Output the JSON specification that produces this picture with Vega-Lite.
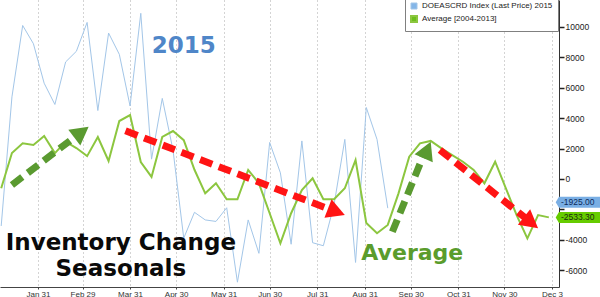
{
  "$schema": "https://vega.github.io/schema/vega-lite/v6.json",
  "width": 559,
  "height": 287,
  "autosize": "none",
  "padding": {"left": 0, "top": 0, "right": 41, "bottom": 10},
  "background": "white",
  "config": {
    "view": {"stroke": null},
    "font": "Liberation Sans",
    "axisX": {"grid": true, "gridDash": [1, 3], "gridColor": "#a8a8a8", "gridWidth": 1, "labelOverlap": false,
      "domainColor": "#444444", "tickColor": "#444444", "tickSize": 2, "labelFontSize": 8, "labelFont": "Liberation Sans", "labelColor": "#333333", "labelPadding": 1, "title": null},
    "axisY": {"grid": false, "labelOverlap": false,
      "tickSize": 5, "tickColor": "#222222", "tickWidth": 1.5, "domainColor": "#333333", "labelFontSize": 8.5, "labelFont": "Liberation Sans", "labelColor": "#222222", "labelPadding": 1, "title": null}
  },
  "datasets": {
    "grid": [
      {"value": -6000}, {"value": -4000}, {"value": -2000}, {"value": 0}, {"value": 2000},
      {"value": 4000}, {"value": 6000}, {"value": 8000}, {"value": 10000}
    ],
    "lines": [
      {"series": "DOEASCRD Index (Last Price) 2015", "date": "2016-01-07", "value": -3100},
      {"series": "DOEASCRD Index (Last Price) 2015", "date": "2016-01-14", "value": 5400},
      {"series": "DOEASCRD Index (Last Price) 2015", "date": "2016-01-21", "value": 10100},
      {"series": "DOEASCRD Index (Last Price) 2015", "date": "2016-01-28", "value": 8900},
      {"series": "DOEASCRD Index (Last Price) 2015", "date": "2016-02-04", "value": 6300},
      {"series": "DOEASCRD Index (Last Price) 2015", "date": "2016-02-11", "value": 4900},
      {"series": "DOEASCRD Index (Last Price) 2015", "date": "2016-02-18", "value": 7700},
      {"series": "DOEASCRD Index (Last Price) 2015", "date": "2016-02-25", "value": 8400},
      {"series": "DOEASCRD Index (Last Price) 2015", "date": "2016-03-03", "value": 10300},
      {"series": "DOEASCRD Index (Last Price) 2015", "date": "2016-03-10", "value": 4500},
      {"series": "DOEASCRD Index (Last Price) 2015", "date": "2016-03-17", "value": 9600},
      {"series": "DOEASCRD Index (Last Price) 2015", "date": "2016-03-24", "value": 8200},
      {"series": "DOEASCRD Index (Last Price) 2015", "date": "2016-03-31", "value": 4800},
      {"series": "DOEASCRD Index (Last Price) 2015", "date": "2016-04-07", "value": 10900},
      {"series": "DOEASCRD Index (Last Price) 2015", "date": "2016-04-14", "value": 1300},
      {"series": "DOEASCRD Index (Last Price) 2015", "date": "2016-04-21", "value": 5300},
      {"series": "DOEASCRD Index (Last Price) 2015", "date": "2016-04-28", "value": 1900},
      {"series": "DOEASCRD Index (Last Price) 2015", "date": "2016-05-05", "value": -3900},
      {"series": "DOEASCRD Index (Last Price) 2015", "date": "2016-05-12", "value": -2200},
      {"series": "DOEASCRD Index (Last Price) 2015", "date": "2016-05-19", "value": -2700},
      {"series": "DOEASCRD Index (Last Price) 2015", "date": "2016-05-26", "value": -2800},
      {"series": "DOEASCRD Index (Last Price) 2015", "date": "2016-06-02", "value": -1900},
      {"series": "DOEASCRD Index (Last Price) 2015", "date": "2016-06-09", "value": -6800},
      {"series": "DOEASCRD Index (Last Price) 2015", "date": "2016-06-16", "value": -2700},
      {"series": "DOEASCRD Index (Last Price) 2015", "date": "2016-06-23", "value": -4900},
      {"series": "DOEASCRD Index (Last Price) 2015", "date": "2016-06-30", "value": 2400},
      {"series": "DOEASCRD Index (Last Price) 2015", "date": "2016-07-07", "value": 400},
      {"series": "DOEASCRD Index (Last Price) 2015", "date": "2016-07-14", "value": -4300},
      {"series": "DOEASCRD Index (Last Price) 2015", "date": "2016-07-21", "value": 2500},
      {"series": "DOEASCRD Index (Last Price) 2015", "date": "2016-07-28", "value": -4200},
      {"series": "DOEASCRD Index (Last Price) 2015", "date": "2016-08-04", "value": -4400},
      {"series": "DOEASCRD Index (Last Price) 2015", "date": "2016-08-11", "value": -1700},
      {"series": "DOEASCRD Index (Last Price) 2015", "date": "2016-08-18", "value": 2600},
      {"series": "DOEASCRD Index (Last Price) 2015", "date": "2016-08-25", "value": -5500},
      {"series": "DOEASCRD Index (Last Price) 2015", "date": "2016-09-01", "value": 4700},
      {"series": "DOEASCRD Index (Last Price) 2015", "date": "2016-09-08", "value": 2600},
      {"series": "DOEASCRD Index (Last Price) 2015", "date": "2016-09-15", "value": -1925},
      {"series": "Average [2004-2013]", "date": "2016-01-07", "value": -620},
      {"series": "Average [2004-2013]", "date": "2016-01-14", "value": 1700},
      {"series": "Average [2004-2013]", "date": "2016-01-21", "value": 2350},
      {"series": "Average [2004-2013]", "date": "2016-01-28", "value": 2230},
      {"series": "Average [2004-2013]", "date": "2016-02-04", "value": 2820},
      {"series": "Average [2004-2013]", "date": "2016-02-11", "value": 1700},
      {"series": "Average [2004-2013]", "date": "2016-02-18", "value": 2450},
      {"series": "Average [2004-2013]", "date": "2016-02-25", "value": 2030},
      {"series": "Average [2004-2013]", "date": "2016-03-03", "value": 1500},
      {"series": "Average [2004-2013]", "date": "2016-03-10", "value": 2760},
      {"series": "Average [2004-2013]", "date": "2016-03-17", "value": 1180},
      {"series": "Average [2004-2013]", "date": "2016-03-24", "value": 3810},
      {"series": "Average [2004-2013]", "date": "2016-03-31", "value": 4200},
      {"series": "Average [2004-2013]", "date": "2016-04-07", "value": 1110},
      {"series": "Average [2004-2013]", "date": "2016-04-14", "value": 130},
      {"series": "Average [2004-2013]", "date": "2016-04-21", "value": 2760},
      {"series": "Average [2004-2013]", "date": "2016-04-28", "value": 3150},
      {"series": "Average [2004-2013]", "date": "2016-05-05", "value": 2550},
      {"series": "Average [2004-2013]", "date": "2016-05-12", "value": 600},
      {"series": "Average [2004-2013]", "date": "2016-05-19", "value": -950},
      {"series": "Average [2004-2013]", "date": "2016-05-26", "value": -290},
      {"series": "Average [2004-2013]", "date": "2016-06-02", "value": -1340},
      {"series": "Average [2004-2013]", "date": "2016-06-09", "value": -1340},
      {"series": "Average [2004-2013]", "date": "2016-06-16", "value": 590},
      {"series": "Average [2004-2013]", "date": "2016-06-23", "value": -290},
      {"series": "Average [2004-2013]", "date": "2016-06-30", "value": -2260},
      {"series": "Average [2004-2013]", "date": "2016-07-07", "value": -4240},
      {"series": "Average [2004-2013]", "date": "2016-07-14", "value": -2260},
      {"series": "Average [2004-2013]", "date": "2016-07-21", "value": -730},
      {"series": "Average [2004-2013]", "date": "2016-07-28", "value": 40},
      {"series": "Average [2004-2013]", "date": "2016-08-04", "value": -1340},
      {"series": "Average [2004-2013]", "date": "2016-08-11", "value": -1340},
      {"series": "Average [2004-2013]", "date": "2016-08-18", "value": -620},
      {"series": "Average [2004-2013]", "date": "2016-08-25", "value": 1240},
      {"series": "Average [2004-2013]", "date": "2016-09-01", "value": -2900},
      {"series": "Average [2004-2013]", "date": "2016-09-08", "value": -3580},
      {"series": "Average [2004-2013]", "date": "2016-09-15", "value": -3030},
      {"series": "Average [2004-2013]", "date": "2016-09-22", "value": -950},
      {"series": "Average [2004-2013]", "date": "2016-09-29", "value": 1460},
      {"series": "Average [2004-2013]", "date": "2016-10-06", "value": 2340},
      {"series": "Average [2004-2013]", "date": "2016-10-13", "value": 2500},
      {"series": "Average [2004-2013]", "date": "2016-10-20", "value": 2010},
      {"series": "Average [2004-2013]", "date": "2016-10-27", "value": 1570},
      {"series": "Average [2004-2013]", "date": "2016-11-03", "value": 1130},
      {"series": "Average [2004-2013]", "date": "2016-11-10", "value": 590},
      {"series": "Average [2004-2013]", "date": "2016-11-17", "value": -290},
      {"series": "Average [2004-2013]", "date": "2016-11-24", "value": 1130},
      {"series": "Average [2004-2013]", "date": "2016-12-01", "value": -620},
      {"series": "Average [2004-2013]", "date": "2016-12-08", "value": -2380},
      {"series": "Average [2004-2013]", "date": "2016-12-15", "value": -3910},
      {"series": "Average [2004-2013]", "date": "2016-12-22", "value": -2380},
      {"series": "Average [2004-2013]", "date": "2016-12-29", "value": -2533.3}
    ],
    "tags": [
      {"series": "DOEASCRD Index (Last Price) 2015", "date": "2017-01-04T15:00:00Z", "value": -1925, "label": "-1925.00"},
      {"series": "Average [2004-2013]", "date": "2017-01-04T15:00:00Z", "value": -2533.3, "label": "-2533.30"}
    ],
    "arrows": [
      {"arrow": "a1", "trend": "rising", "date": "2016-01-14", "value": -400},
      {"arrow": "a1", "trend": "rising", "date": "2016-02-24", "value": 2760},
      {"arrow": "a2", "trend": "falling", "date": "2016-03-28", "value": 3170},
      {"arrow": "a2", "trend": "falling", "date": "2016-08-08", "value": -2000},
      {"arrow": "a3", "trend": "rising", "date": "2016-09-18", "value": -3480},
      {"arrow": "a3", "trend": "rising", "date": "2016-10-08", "value": 1480},
      {"arrow": "a4", "trend": "falling", "date": "2016-10-19", "value": 1900},
      {"arrow": "a4", "trend": "falling", "date": "2016-12-14", "value": -2590}
    ],
    "heads": [
      {"arrow": "a1", "date": "2016-03-04", "value": 3440},
      {"arrow": "a2", "date": "2016-08-18", "value": -2380},
      {"arrow": "a3", "date": "2016-10-13", "value": 2450},
      {"arrow": "a4", "date": "2016-12-22", "value": -3250}
    ],
    "notes": [
      {"note": "2015", "date": "2016-05-05", "value": 8290},
      {"note": "Inventory Change", "date": "2016-03-25", "value": -4650},
      {"note": "Seasonals", "date": "2016-03-25", "value": -6390},
      {"note": "Average", "date": "2016-10-01", "value": -5340}
    ]
  },
  "encoding": {
    "x": {
      "field": "date", "type": "temporal",
      "scale": {"type": "utc", "domain": [
        {"year": 2016, "month": 1, "date": 6, "hours": 5, "minutes": 13, "utc": true},
        {"year": 2017, "month": 1, "date": 4, "hours": 15, "utc": true}
      ]},
      "axis": {
        "values": [
          {"year": 2016, "month": 1, "date": 31, "utc": true},
          {"year": 2016, "month": 2, "date": 29, "utc": true},
          {"year": 2016, "month": 3, "date": 31, "utc": true},
          {"year": 2016, "month": 4, "date": 30, "utc": true},
          {"year": 2016, "month": 5, "date": 31, "utc": true},
          {"year": 2016, "month": 6, "date": 30, "utc": true},
          {"year": 2016, "month": 7, "date": 31, "utc": true},
          {"year": 2016, "month": 8, "date": 31, "utc": true},
          {"year": 2016, "month": 9, "date": 30, "utc": true},
          {"year": 2016, "month": 10, "date": 31, "utc": true},
          {"year": 2016, "month": 11, "date": 30, "utc": true},
          {"year": 2016, "month": 12, "date": 31, "utc": true}
        ],
        "labelExpr": "utcFormat(datum.value, '%b %d') == 'Dec 31' ? 'Dec 3' : utcFormat(datum.value, '%b %d')"
      }
    },
    "y": {
      "field": "value", "type": "quantitative",
      "scale": {"domain": [-7116, 11777], "nice": false, "zero": false},
      "axis": {
        "orient": "right",
        "values": [-6000, -4000, -2000, 0, 2000, 4000, 6000, 8000, 10000],
        "labelExpr": "datum.value == -2000 ? '' : '' + datum.value"
      }
    }
  },
  "layer": [
    {
      "data": {"name": "grid"},
      "mark": {"type": "rule", "strokeDash": [1, 2], "color": "#8c8c8c", "strokeWidth": 1.2},
      "encoding": {
        "x": {"datum": {"year": 2016, "month": 1, "date": 6, "hours": 5, "minutes": 13, "utc": true}, "type": "temporal"},
        "x2": {"datum": {"year": 2017, "month": 1, "date": 4, "hours": 15, "utc": true}}
      }
    },
    {
      "data": {"name": "lines"},
      "mark": {"type": "line", "strokeJoin": "miter", "clip": true},
      "encoding": {
        "color": {
          "field": "series", "type": "nominal",
          "scale": {"domain": ["DOEASCRD Index (Last Price) 2015", "Average [2004-2013]"], "range": ["#a3c6e8", "#8cc63f"]},
          "legend": {
            "title": null, "orient": "none", "legendX": 405, "legendY": -3,
            "padding": 5, "strokeColor": "#808080", "fillColor": "#ffffff",
            "symbolType": "square", "symbolSize": 36, "symbolStrokeWidth": 0,
            "labelFontSize": 8, "labelFont": "Liberation Sans", "labelColor": "#222222",
            "labelOffset": 4, "rowPadding": 1,
            "encode": {"symbols": {"update": {
              "fill": {"signal": "datum.value === 'Average [2004-2013]' ? '#6cbf1c' : '#84b6e8'"},
              "opacity": {"value": 1}
            }}}
          }
        },
        "strokeWidth": {
          "field": "series", "type": "nominal",
          "scale": {"domain": ["DOEASCRD Index (Last Price) 2015", "Average [2004-2013]"], "range": [1, 2]},
          "legend": null
        }
      }
    },
    {
      "data": {"name": "arrows"},
      "mark": {"type": "line", "strokeWidth": 7, "strokeDash": [13, 7], "strokeCap": "butt"},
      "encoding": {
        "detail": {"field": "arrow"},
        "stroke": {"field": "trend", "type": "nominal", "scale": {"domain": ["rising", "falling"], "range": ["#5a9a30", "#ff1414"]}, "legend": null}
      }
    },
    {
      "data": {"name": "heads"},
      "transform": [{"filter": "datum.arrow === 'a1'"}],
      "mark": {"type": "point", "shape": "M0,0 L-2,-1.1 L-2,1.1 Z", "size": 324, "filled": true, "opacity": 1, "color": "#5a9a30", "angle": 322.7},
      "encoding": {}
    },
    {
      "data": {"name": "heads"},
      "transform": [{"filter": "datum.arrow === 'a2'"}],
      "mark": {"type": "point", "shape": "M0,0 L-2,-1.1 L-2,1.1 Z", "size": 324, "filled": true, "opacity": 1, "color": "#ff1414", "angle": 21},
      "encoding": {}
    },
    {
      "data": {"name": "heads"},
      "transform": [{"filter": "datum.arrow === 'a3'"}],
      "mark": {"type": "point", "shape": "M0,0 L-2,-1.1 L-2,1.1 Z", "size": 324, "filled": true, "opacity": 1, "color": "#5a9a30", "angle": 293.1},
      "encoding": {}
    },
    {
      "data": {"name": "heads"},
      "transform": [{"filter": "datum.arrow === 'a4'"}],
      "mark": {"type": "point", "shape": "M0,0 L-2,-1.1 L-2,1.1 Z", "size": 324, "filled": true, "opacity": 1, "color": "#ff1414", "angle": 38.5},
      "encoding": {}
    },
    {
      "data": {"name": "tags"},
      "transform": [{"filter": "datum.label === '-1925.00'"}],
      "mark": {"type": "point", "shape": "M-0.6,0 L0,-1 L7.6,-1 L7.6,1 L0,1 Z", "size": 121, "filled": true, "opacity": 1, "yOffset": -6, "strokeWidth": 0, "color": "#79aee4"},
      "encoding": {}
    },
    {
      "data": {"name": "tags"},
      "transform": [{"filter": "datum.label === '-1925.00'"}],
      "mark": {"type": "text", "align": "left", "baseline": "middle", "dx": 2, "yOffset": -6, "fontSize": 8.5, "font": "Liberation Sans", "color": "#0d2a5a"},
      "encoding": {"text": {"field": "label"}}
    },
    {
      "data": {"name": "tags"},
      "transform": [{"filter": "datum.label === '-2533.30'"}],
      "mark": {"type": "point", "shape": "M-0.6,0 L0,-1 L7.6,-1 L7.6,1 L0,1 Z", "size": 121, "filled": true, "opacity": 1, "yOffset": 0, "strokeWidth": 0, "color": "#66cc00"},
      "encoding": {}
    },
    {
      "data": {"name": "tags"},
      "transform": [{"filter": "datum.label === '-2533.30'"}],
      "mark": {"type": "text", "align": "left", "baseline": "middle", "dx": 2, "yOffset": 0, "fontSize": 8.5, "font": "Liberation Sans", "color": "#1a2a10"},
      "encoding": {"text": {"field": "label"}}
    },
    {
      "data": {"name": "notes"},
      "transform": [{"filter": "datum.note === '2015'"}],
      "mark": {"type": "text", "align": "center", "baseline": "alphabetic", "font": "DejaVu Sans", "fontWeight": "bold", "fontSize": 23, "color": "#4f86c8"},
      "encoding": {"text": {"field": "note"}}
    },
    {
      "data": {"name": "notes"},
      "transform": [{"filter": "datum.note === 'Inventory Change' || datum.note === 'Seasonals'"}],
      "mark": {"type": "text", "align": "center", "baseline": "alphabetic", "font": "DejaVu Sans", "fontWeight": "bold", "fontSize": 23, "color": "#0a0a0a"},
      "encoding": {"text": {"field": "note"}}
    },
    {
      "data": {"name": "notes"},
      "transform": [{"filter": "datum.note === 'Average'"}],
      "mark": {"type": "text", "align": "center", "baseline": "alphabetic", "font": "DejaVu Sans", "fontWeight": "bold", "fontSize": 22, "color": "#5a9c2c"},
      "encoding": {"text": {"field": "note"}}
    }
  ]
}
